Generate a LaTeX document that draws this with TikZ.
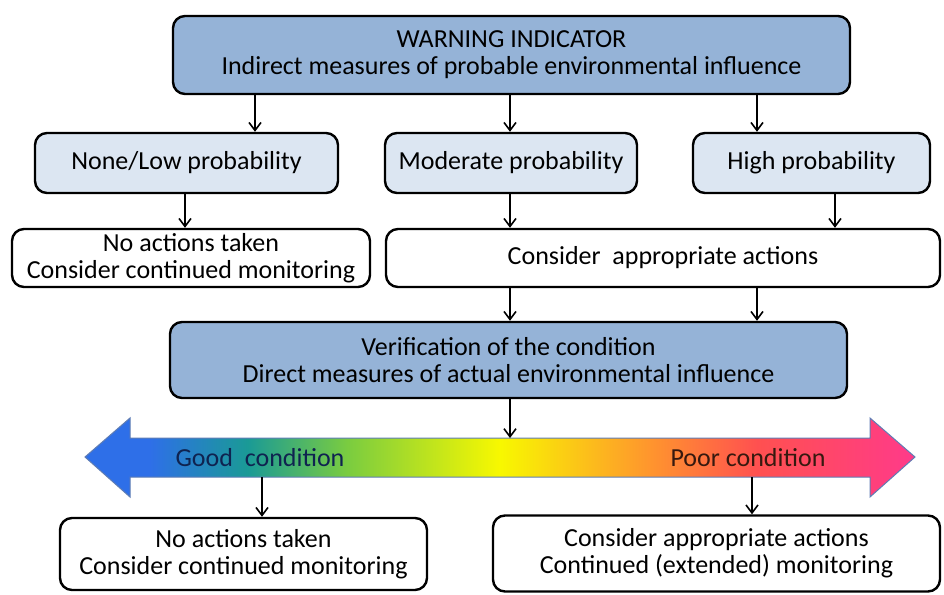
\documentclass[tikz,border=0pt]{standalone}
\usepackage{fontspec}
\setmainfont{Carlito}
\usepackage{xcolor}
\definecolor{indblue}{RGB}{149,179,215}
\definecolor{problight}{RGB}{220,230,242}
\definecolor{edgeblue}{RGB}{95,125,180}
\definecolor{goodtext}{RGB}{15,35,80}
\definecolor{poortext}{RGB}{55,25,15}
\definecolor{cblue}{RGB}{46,111,232}
\definecolor{cteal}{RGB}{26,154,150}
\definecolor{cgreen}{RGB}{122,204,64}
\definecolor{cyellow}{RGB}{248,248,0}
\definecolor{corange}{RGB}{255,144,48}
\definecolor{cred}{RGB}{255,80,80}
\definecolor{cpink}{RGB}{255,58,138}
\usepackage{tikz}
\usetikzlibrary{positioning,arrows.meta,calc}
\pgfdeclarehorizontalshading{condshade}{100bp}{color(0bp)=(cblue); color(25bp)=(cblue); color(28.9bp)=(cblue); color(34.8bp)=(cteal); color(40.8bp)=(cgreen); color(50bp)=(cyellow); color(59.5bp)=(corange); color(65.5bp)=(cred); color(75bp)=(cpink); color(100bp)=(cpink)}

\begin{document}
\begin{tikzpicture}[
    x=0.5pt, y=-0.5pt,
    font=\fontsize{13}{13.5}\selectfont,
    box/.style={rectangle, draw, line width=1.2pt, rounded corners=6pt, align=center, inner sep=2pt},
    indicator/.style={box, fill=indblue, minimum width=338.5pt, minimum height=39pt},
    level/.style={box, fill=problight, minimum height=30pt},
    outcome/.style={box, fill=white, minimum height=29pt},
    arrow/.style={-{Straight Barb[length=4pt,width=6pt]}, line width=0.8pt}
]
\useasboundingbox (0,0) rectangle (944,595);

\node[indicator] (warn) at (511.5,55) {WARNING INDICATOR\\Indirect measures of probable environmental influence};
\node[level, minimum width=151.5pt] (low) at (186.5,163) {None/Low probability};
\node[level, minimum width=126pt] (mod) at (511,163) {Moderate probability};
\node[level, minimum width=118.5pt] (high) at (811.5,163) {High probability};
\node[outcome, minimum width=179pt] (noact) at (191,258) {No actions taken\\Consider continued monitoring};
\node[outcome, minimum width=277pt] (consider) at (663,258) {Consider\ \ appropriate actions};
\node[indicator, minimum height=38pt] (verif) at (508.5,360) {Verification of the condition\\Direct measures of actual environmental influence};

% colour scale
\shadedraw[shading=condshade, draw=edgeblue, line width=0.5pt] (85,457) -- (130,418) -- (130,438) -- (870,438) -- (870,418) -- (915,457) -- (870,497) -- (870,477) -- (130,477) -- (130,497) -- cycle;
\coordinate (shafttop) at (510,438);
\coordinate (goodout) at (262,477);
\coordinate (poorout) at (752,477);
\node[text=goodtext] (good) at (260,458) {Good\ \ condition};
\node[text=poortext] (poor) at (748,458) {Poor condition};

\node[outcome, minimum width=183.5pt, minimum height=36pt] (stay) at (243.5,554) {No actions taken\\Consider continued monitoring};
\node[outcome, minimum width=223.5pt, minimum height=38pt] (act) at (716.5,553.5) {Consider appropriate actions\\Continued (extended) monitoring};

% arrow columns
\coordinate (xa) at (255,0);
\coordinate (xm) at (510,0);
\coordinate (xb) at (757,0);
\coordinate (xl) at (185,0);
\coordinate (xh) at (835,0);

\draw[arrow] (warn.south -| xa) -- (low.north -| xa);
\draw[arrow] (warn.south -| xm) -- (mod.north -| xm);
\draw[arrow] (warn.south -| xb) -- (high.north -| xb);
\draw[arrow] (low.south -| xl) -- (noact.north -| xl);
\draw[arrow] (mod.south -| xm) -- (consider.north -| xm);
\draw[arrow] (high.south -| xh) -- (consider.north -| xh);
\draw[arrow] (consider.south -| xm) -- (verif.north -| xm);
\draw[arrow] (consider.south -| xb) -- (verif.north -| xb);
\draw[arrow] (verif.south -| xm) -- (shafttop);
\draw[arrow] (goodout) -- (stay.north -| goodout);
\draw[arrow] (poorout) -- (act.north -| poorout);

\end{tikzpicture}
\end{document}
